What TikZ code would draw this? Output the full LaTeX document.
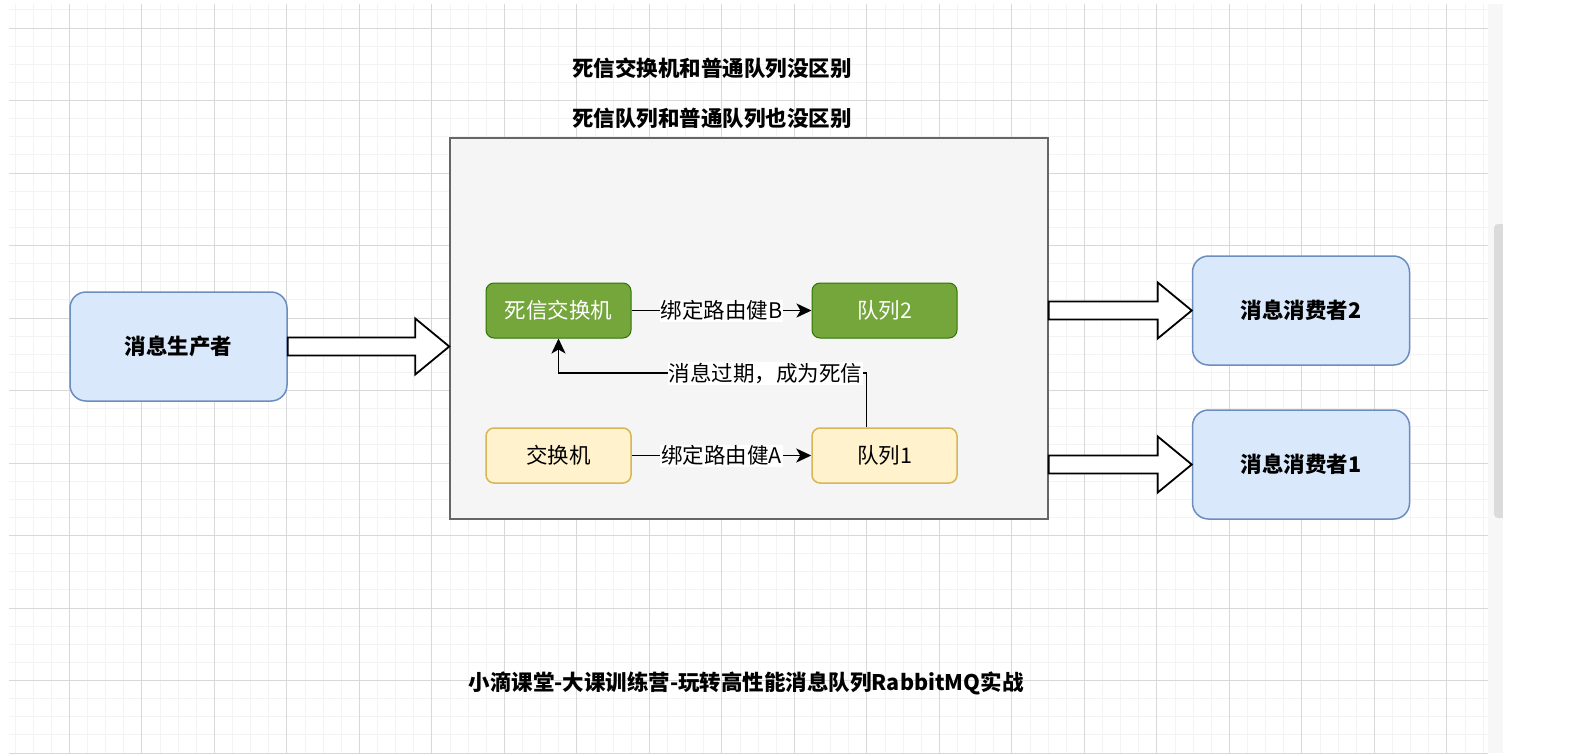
\documentclass[tikz,border=0pt]{standalone}
\usepackage{fontspec}
\setmainfont{Noto Sans CJK SC}
\usetikzlibrary{calc,arrows.meta}

\definecolor{gridminor}{HTML}{F3F3F3}
\definecolor{gridmajor}{HTML}{D8D8D8}
\definecolor{bluefill}{HTML}{DAE8FC}
\definecolor{blueline}{HTML}{6C8EBF}
\definecolor{greenfill}{HTML}{74A63B}
\definecolor{greenline}{HTML}{2D7600}
\definecolor{yellowfill}{HTML}{FFF2CC}
\definecolor{yellowline}{HTML}{D6B656}
\definecolor{boxfill}{HTML}{F5F5F5}
\definecolor{boxline}{HTML}{666666}

% hollow block arrow between two points on one level
\newcommand{\fatarrow}[2]{%
  \draw[fatline] let \p1=(#1), \p2=(#2) in
    (\x1,\y1+9pt) -- (\x2-34pt,\y1+9pt) -- (\x2-34pt,\y1+28pt) -- (\x2,\y1)
    -- (\x2-34pt,\y1-28pt) -- (\x2-34pt,\y1-9pt) -- (\x1,\y1-9pt) -- cycle;}

\begin{document}
\begin{tikzpicture}[x=1pt, y=-1pt,
    txt/.style={font=\fontsize{21.5pt}{26pt}\selectfont, inner sep=0pt},
    bluebox/.style={txt, font=\fontsize{21.5pt}{26pt}\selectfont\bfseries, draw=blueline, fill=bluefill,
        line width=1.5pt, rounded corners=16pt, minimum width=217pt, minimum height=109pt},
    greenbox/.style={txt, text=white, draw=greenline, fill=greenfill, line width=1pt,
        rounded corners=8pt, minimum width=145pt, minimum height=55pt},
    yellowbox/.style={txt, draw=yellowline, fill=yellowfill, line width=1.5pt,
        rounded corners=8pt, minimum width=145pt, minimum height=55pt},
    title/.style={font=\fontsize{21.5pt}{26pt}\selectfont\bfseries, inner sep=0pt},
    edgelabel/.style={txt, fill=white, inner sep=1pt},
    link/.style={line width=1.8pt, -{Stealth[length=15pt,width=14pt,inset=4pt]}},
    fatline/.style={draw=black, fill=white, line width=1.8pt, line join=miter}]

    \useasboundingbox (0,0) rectangle (1575,753);
    \fill[white] (0,0) rectangle (1575,753);

    % Background grid
    \begin{scope}
        \clip (9,4) rectangle (1488,753);
        \foreach \i in {0,...,81} {
            \pgfmathsetmacro\gx{15+18.125*\i}
            \draw[gridminor, line width=1pt] (\gx,4) -- (\gx,753);
        }
        \foreach \j in {0,...,41} {
            \pgfmathsetmacro\gy{9.9+18.125*\j}
            \draw[gridminor, line width=1pt] (9,\gy) -- (1488,\gy);
        }
        \foreach \i in {0,...,19} {
            \pgfmathsetmacro\gx{69.4+72.5*\i}
            \draw[gridmajor, line width=1pt] (\gx,4) -- (\gx,753);
        }
        \foreach \j in {0,...,10} {
            \pgfmathsetmacro\gy{28+72.5*\j}
            \draw[gridmajor, line width=1pt] (9,\gy) -- (1488,\gy);
        }
    \end{scope}

    % Scroll bar
    \fill[black!3] (1488,4) rectangle (1503,753);
    \fill[black!14, rounded corners=4pt] (1494,224) rectangle (1508,518);
    \fill[white] (1503,0) rectangle (1575,753);

    % Titles
    \node[title] (title1) at (712,68) {死信交换机和普通队列没区别};
    \node[title] (title2) at (712,118) {死信队列和普通队列也没区别};
    \node[title] (footer) at (746,683) {小滴课堂-大课训练营-玩转高性能消息队列RabbitMQ实战};

    % Broker box
    \node[draw=boxline, fill=boxfill, line width=1.5pt, minimum width=598pt, minimum height=381pt,
        inner sep=0pt] (box) at (749,328.5) {};

    % Producer and consumers
    \node[bluebox] (producer) at (178.5,346.5) {消息生产者};
    \node[bluebox] (consumer2) at (1301,310.5) {消息消费者2};
    \node[bluebox] (consumer1) at (1301,464.5) {消息消费者1};

    % Exchanges and queues
    \node[greenbox] (dlx) at (558.5,310.5) {死信交换机};
    \node[greenbox] (queue2) at (884.5,310.5) {队列2};
    \node[yellowbox] (exchange) at (558.5,455.5) {交换机};
    \node[yellowbox] (queue1) at (884.5,455.5) {队列1};

    % Bindings
    \draw[link] (dlx.east) -- node[edgelabel] {绑定路由健B} (queue2.west);
    \draw[link] (exchange.east) -- node[edgelabel] {绑定路由健A} (queue1.west);

    % Dead letter route
    \draw[link] ([xshift=-18pt]queue1.north) -- ([xshift=-18pt,yshift=54pt]queue1.north)
        -| node[edgelabel, pos=0.164] {消息过期，成为死信} (dlx.south);

    % Block arrows
    \fatarrow{producer.east}{producer.east -| box.west}
    \fatarrow{consumer2.west -| box.east}{consumer2.west}
    \fatarrow{consumer1.west -| box.east}{consumer1.west}

\end{tikzpicture}
\end{document}
